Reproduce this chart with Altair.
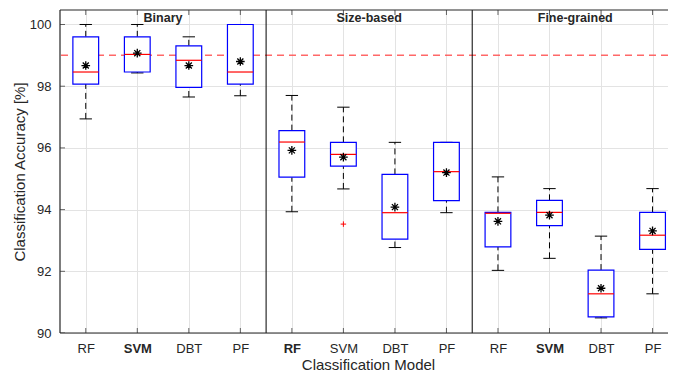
import altair as alt
import pandas as pd

groups = ["Binary", "Size-based", "Fine-grained"]
models = ["RF", "SVM", "DBT", "PF"]
bold_model = {"Binary": "SVM", "Size-based": "RF", "Fine-grained": "SVM"}

whisker_hi = [100.0, 100.0, 99.60, 100.0, 97.70, 97.32, 96.18, 96.18, 95.06, 94.68, 93.14, 94.68]
q3 =         [99.60, 99.60, 99.31, 100.0, 96.56, 96.18, 95.14, 96.18, 93.91, 94.30, 92.04, 93.91]
median =     [98.46, 99.03, 98.84, 98.46, 96.19, 95.79, 93.90, 95.23, 93.88, 93.91, 91.27, 93.17]
q1 =         [98.07, 98.46, 97.96, 98.07, 95.05, 95.41, 93.04, 94.29, 92.79, 93.48, 90.52, 92.71]
whisker_lo = [96.94, 98.43, 97.65, 97.69, 93.93, 94.67, 92.77, 93.90, 92.03, 92.42, 90.49, 91.27]
mean =       [98.67, 99.07, 98.67, 98.80, 95.92, 95.70, 94.08, 95.20, 93.62, 93.82, 91.45, 93.31]

outlier_pos = [6]
outlier_val = [93.53]
reference_acc = 99.0
y_ticks = [90, 92, 94, 96, 98, 100]

rows = []
i = 0
for g in groups:
    for m in models:
        p = i + 1
        rows.append(dict(pos=p, group=g, model=m,
                         bold=(m == bold_model[g]),
                         lo=whisker_lo[i], q1=q1[i], med=median[i], q3=q3[i],
                         hi=whisker_hi[i], mean=mean[i],
                         bl=p - 0.25, br=p + 0.25, cl=p - 0.12, cr=p + 0.12))
        i += 1
df = pd.DataFrame(rows)

# right edge of the axes box falls just outside the window in the reference
xdom = [0.5, 12.3]
ydom = [90, 100.47]
xs = alt.Scale(domain=xdom, nice=False, zero=False)
ys = alt.Scale(domain=ydom, nice=False, zero=False)

label_map = "{" + ",".join(f"'{r.pos}':'{r.model}'" for r in df.itertuples()) + "}"
bold_list = "[" + ",".join(str(r.pos) for r in df.itertuples() if r.bold) + "]"

font = "Liberation Sans"
dark = "#262626"

base = alt.Chart(df)

xaxis = alt.Axis(
    values=list(df["pos"]),
    labelExpr=f"{label_map}[''+datum.value]",
    labelFontWeight={"condition": {"test": f"indexof({bold_list}, datum.value) >= 0", "value": "bold"}, "value": "normal"},
    title="Classification Model",
    grid=True, gridColor="#e3e3e3", ticks=False, domain=False,
    labelPadding=9, labelFontSize=13, labelColor=dark, labelFont=font,
    titleFontSize=15, titleColor=dark, titleFont=font, titleFontWeight="normal", titlePadding=2,
    titleX=308,
)
yaxis = alt.Axis(
    values=y_ticks, title="Classification Accuracy [%]",
    grid=True, gridColor="#e3e3e3", ticks=False, domain=False,
    labelPadding=9, labelFontSize=13, labelColor=dark, labelFont=font,
    titleFontSize=15, titleColor=dark, titleFont=font, titleFontWeight="normal", titlePadding=2,
)

grid = alt.Chart(pd.DataFrame({"y": y_ticks})).mark_point(opacity=0).encode(
    x=alt.value(0), y=alt.Y("y:Q", scale=ys, axis=yaxis))
gridx = base.mark_point(opacity=0).encode(
    x=alt.X("pos:Q", scale=xs, axis=xaxis), y=alt.Y("med:Q", scale=ys))

# frame (left, top, bottom)
frame_h = alt.Chart(pd.DataFrame({"y": ydom})).mark_rule(color=dark, strokeWidth=1.2).encode(
    y=alt.Y("y:Q", scale=ys), x=alt.value(0), x2=alt.value(700))
frame_v = alt.Chart(pd.DataFrame({"x": [xdom[0]]})).mark_rule(color=dark, strokeWidth=1.2).encode(
    x=alt.X("x:Q", scale=xs))

# inward ticks
tick_b = base.mark_tick(color=dark, size=10, thickness=1, orient="vertical", clip=True).encode(
    x=alt.X("pos:Q", scale=xs), y=alt.datum(ydom[0], scale=ys))
tick_t = base.mark_tick(color=dark, size=10, thickness=1, orient="vertical", clip=True).encode(
    x=alt.X("pos:Q", scale=xs), y=alt.datum(ydom[1], scale=ys))
tick_l = alt.Chart(pd.DataFrame({"y": y_ticks})).mark_tick(
    color=dark, size=10, thickness=1, orient="horizontal", clip=True).encode(
    y=alt.Y("y:Q", scale=ys), x=alt.datum(xdom[0], scale=xs))

whisk_up = base.mark_rule(color="black", strokeDash=[6, 4], strokeWidth=1).encode(
    x=alt.X("pos:Q", scale=xs), y=alt.Y("q3:Q", scale=ys), y2="hi:Q")
whisk_dn = base.mark_rule(color="black", strokeDash=[6, 4], strokeWidth=1).encode(
    x=alt.X("pos:Q", scale=xs), y=alt.Y("lo:Q", scale=ys), y2="q1:Q")
cap_hi = base.mark_rule(color="black", strokeWidth=1).encode(
    x=alt.X("cl:Q", scale=xs), x2="cr:Q", y=alt.Y("hi:Q", scale=ys))
cap_lo = base.mark_rule(color="black", strokeWidth=1).encode(
    x=alt.X("cl:Q", scale=xs), x2="cr:Q", y=alt.Y("lo:Q", scale=ys))
box = base.mark_rect(fill="white", stroke="#0000ff", strokeWidth=1.2).encode(
    x=alt.X("bl:Q", scale=xs), x2="br:Q", y=alt.Y("q1:Q", scale=ys), y2="q3:Q")
med = base.mark_rule(color="#ff0000", strokeWidth=1.2).encode(
    x=alt.X("bl:Q", scale=xs), x2="br:Q", y=alt.Y("med:Q", scale=ys))
star = "M-1,0L1,0M0,-1L0,1M-0.7,-0.7L0.7,0.7M-0.7,0.7L0.7,-0.7"
meanp = base.mark_point(shape=star, stroke="black", strokeWidth=1.3, size=75, filled=False,
                        opacity=1).encode(
    x=alt.X("pos:Q", scale=xs), y=alt.Y("mean:Q", scale=ys))

outl = alt.Chart(pd.DataFrame({"pos": outlier_pos, "v": outlier_val})).mark_point(
    shape="M-1,0L1,0M0,-1L0,1", stroke="#ff0000", strokeWidth=1, size=30, filled=False,
    opacity=1).encode(
    x=alt.X("pos:Q", scale=xs), y=alt.Y("v:Q", scale=ys))

refline = alt.Chart(pd.DataFrame({"y": [reference_acc]})).mark_rule(
    color="#ff4d4d", strokeDash=[7, 5], strokeWidth=1.5, opacity=0.85).encode(
    y=alt.Y("y:Q", scale=ys))

sep_df = pd.DataFrame({"x": [4.5, 8.5]})
seps = alt.Chart(sep_df).mark_rule(color="black", strokeWidth=1).encode(
    x=alt.X("x:Q", scale=xs))

title_df = pd.DataFrame({"g": groups, "x": [2.5, 6.5, 10.5]})
titles = alt.Chart(title_df).mark_text(
    fontWeight="bold", fontSize=12.5, font=font, color=dark, baseline="top", dy=0).encode(
    x=alt.X("x:Q", scale=xs), y=alt.value(2), text="g:N")

chart = alt.layer(grid, gridx, tick_b, tick_t, tick_l, refline, whisk_up, whisk_dn, cap_hi, cap_lo,
                  box, med, meanp, outl, seps, frame_h, frame_v, titles).properties(
    width=608, height=323,
    autosize=alt.AutoSizeParams(type="none"),
    padding={"left": 52, "top": 2, "right": 0, "bottom": 38},
).configure_view(stroke=None)

chart.save("out.html", embed_options={"renderer": "svg", "actions": False})
